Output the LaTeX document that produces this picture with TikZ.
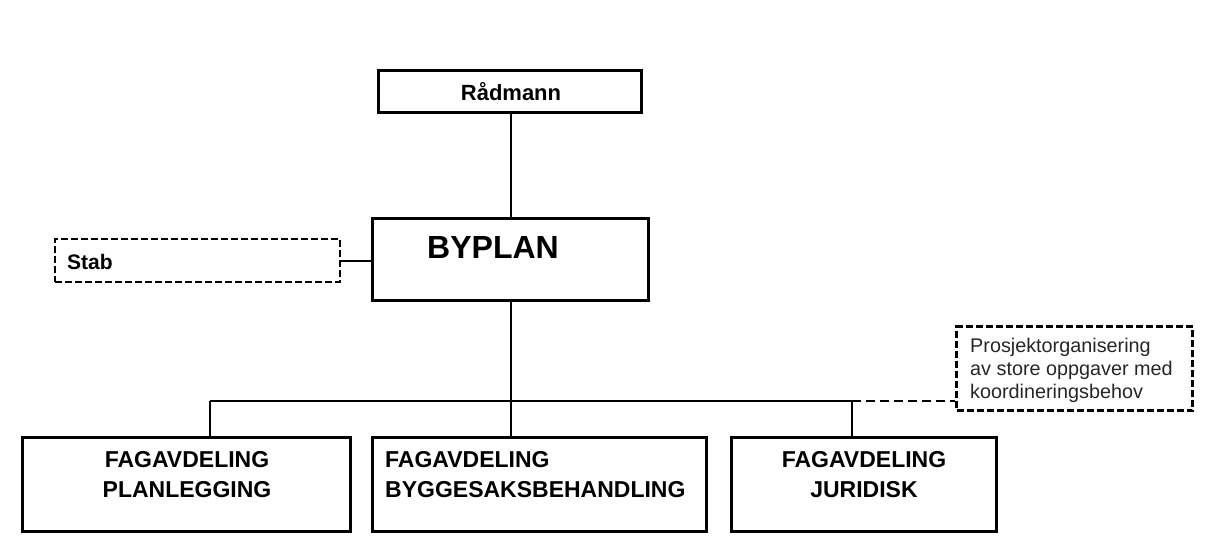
\documentclass[tikz,border=0pt]{standalone}
\usepackage{fontspec}
\setmainfont{Liberation Sans}
\begin{document}
\begin{tikzpicture}[x=1pt,y=-1pt,
  box/.style={draw=black,line width=3pt,inner sep=0pt},
  dbox/.style={draw=black,line width=2.4pt,dash pattern=on 7pt off 3pt,inner sep=0pt},
  conn/.style={draw=black,line width=2pt},
  dconn/.style={draw=black,line width=2.4pt,dash pattern=on 9pt off 5pt},
  btxt/.style={inner sep=0pt,font=\fontsize{23}{30}\selectfont\bfseries,align=center},
]
\useasboundingbox (0,0) rectangle (1210,544);
% boxes
\node[box,minimum width=263pt,minimum height=42pt] (rad) at (510,91) {};
\node[inner sep=0pt,font=\fontsize{22}{26}\selectfont\bfseries] (radt) at (511,92) {Rådmann};
\node[box,minimum width=276pt,minimum height=82pt] (byplan) at (510,259) {};
\node[inner sep=0pt,font=\fontsize{32}{36}\selectfont\bfseries] (byplant) at (493,247) {BYPLAN};
\node[dbox,minimum width=285pt,minimum height=43pt] (stab) at (197.5,260.5) {};
\node[inner sep=0pt,anchor=west,font=\fontsize{21}{24}\selectfont\bfseries] (stabt) at (67,262) {Stab};
\node[box,minimum width=328pt,minimum height=94pt] (b1) at (186.5,484) {};
\node[btxt] (b1t) at (187,475) {FAGAVDELING\\PLANLEGGING};
\node[box,minimum width=334pt,minimum height=94pt] (b2) at (539.5,484) {};
\node[btxt,align=left,anchor=west] (b2t) at (385,475) {FAGAVDELING\\BYGGESAKSBEHANDLING};
\node[box,minimum width=265pt,minimum height=94pt] (b3) at (863.5,484) {};
\node[btxt] (b3t) at (864,475) {FAGAVDELING\\JURIDISK};
\node[dbox,minimum width=236pt,minimum height=84pt] (proj) at (1074.5,368.5) {};
\node[inner sep=0pt,anchor=north west,align=left,text=black!85,font=\fontsize{19.8}{23}\selectfont] (projt) at (970,338) {Prosjektorganisering\\av store oppgaver med\\koordineringsbehov};
% junction coordinates
\coordinate (jL) at (210,401);
\coordinate (jM) at (511,401);
\coordinate (jR) at (852,401);
% connectors
\draw[conn] (rad.south -| jM) -- (byplan.north -| jM);
\draw[conn] (stab.east) -- (stab.east -| byplan.west);
\draw[conn] (byplan.south -| jM) -- (jM);
\draw[conn,line width=2.6pt] (jL) -- (jR);
\draw[conn] (jL) -- (jL |- b1.north);
\draw[conn] (jM) -- (jM |- b2.north);
\draw[conn] (jR) -- (jR |- b3.north);
\draw[dconn] (jR) -- (jR -| proj.west);
\end{tikzpicture}
\end{document}
